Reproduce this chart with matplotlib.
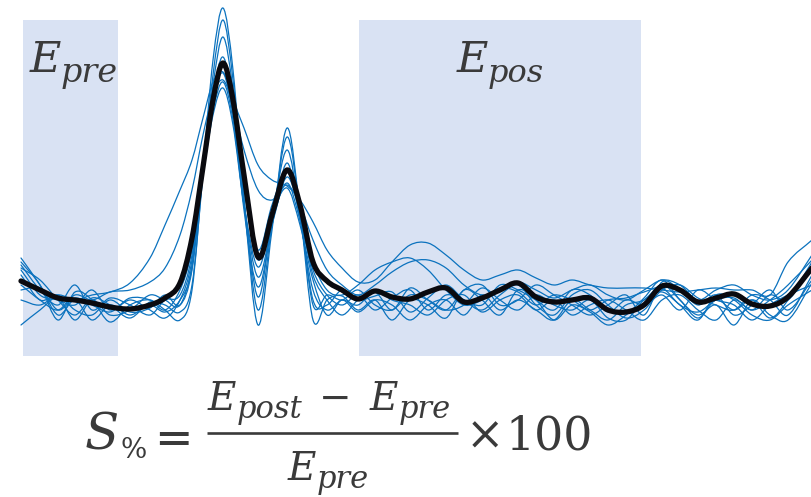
import numpy as np
import matplotlib
matplotlib.use("Agg")
import matplotlib.pyplot as plt
from matplotlib.path import Path
from matplotlib.patches import PathPatch, Rectangle

# sample times of the waveform knots
t = [21, 40, 58, 75, 92, 110, 130, 150, 165, 180, 192, 203, 213, 223, 233, 244,
     258, 272, 287, 300, 313, 327, 342, 358, 375, 392, 410, 428, 446, 464, 482,
     500, 518, 536, 554, 572, 590, 608, 626, 644, 662, 680, 698, 716, 734, 752,
     770, 788, 812]

# grand average (negative up)
mean_wave = [-19, -10, -2, 0, 3, 7, 9, 5, -2, -17, -62, -133, -200, -237, -200, -125,
             -43, -85, -130, -95, -38, -19, -10, -1, -9, -3, -1, -8, -12, 2, -2,
             -10, -17, -3, 2, 0, -2, 10, 12, 5, -14, -10, 2, -2, -6, 4, 6, -3, -32]

# individual trials
trial_a = [-38, -15, 20, -8, 0, 22, 5, 0, 10, 20, -10, -130, -240, -292, -230, -100,
           25, -70, -172, -90, 20, 0, -4, 10, 0, 20, 0, 5, 18, -10, 0,
           15, -10, 0, 20, 5, 12, 25, 15, -2, -20, 0, 15, 5, 25, 0, 15, 20, -17]
trial_b = [-32, -20, 0, 15, -2, 5, 18, 2, 5, 12, -15, -125, -225, -280, -220, -100,
           10, -75, -163, -90, 5, -5, 0, -10, 5, 10, -5, 0, 10, 5, -12,
           0, 10, -5, 5, 10, 0, 18, 20, 0, -8, 5, 20, -5, 0, 15, 20, 5, -10]
trial_c = [-25, 0, -5, 10, 15, 0, 12, 8, -5, 5, -30, -130, -215, -263, -210, -100,
           -3, -80, -150, -85, 0, 5, -10, 0, -4, -8, 12, -2, -15, 0, 10,
           -5, -15, 5, 15, -5, -10, 5, 18, 10, -10, -15, -2, 5, 10, -5, 0, 15, -25]
trial_d = [-10, -12, 10, -2, 5, 12, 0, 10, 18, 0, -40, -135, -205, -243, -195, -90,
           -13, -75, -137, -80, -10, 10, 0, 5, -10, 0, 5, 15, 0, -5, 12,
           0, -5, 10, 0, 15, 5, 0, 10, 20, 0, -5, 10, 20, 0, 10, -5, 0, -35]
trial_e = [0, 5, -5, 0, -5, -8, -17, -42, -75, -110, -140, -182, -218, -228, -200, -172,
           -135, -120, -114, -100, -78, -50, -32, -18, -20, -38, -55, -57, -45, -30, -20,
           -25, -30, -22, -15, -20, -15, -12, -12, -12, -10, -8, -10, -12, -10, -10, -5, -38, -60]
trial_f = [-15, 0, 10, -5, 0, -8, -10, -18, -32, -65, -110, -165, -205, -220, -195, -150,
           -110, -100, -115, -95, -60, -30, -15, -5, -15, -28, -38, -40, -32, -15, -5,
           -10, -18, -10, -2, -10, -15, -5, 0, -10, -20, -15, 0, -10, -15, -5, 0, -10, -45]
trial_g = [-35, -10, 5, -15, 10, -2, 5, 15, 0, -5, -45, -130, -190, -218, -180, -95,
           -23, -75, -123, -85, -25, 0, 15, 0, -8, 10, -12, 0, 10, -10, -15,
           5, 0, -15, -5, 5, 15, 5, -5, 15, -18, -10, 5, -5, 15, 5, -10, 10, -20]
trial_h = [-30, -5, 0, 5, -10, 10, -2, 0, 10, -10, -50, -125, -185, -212, -175, -95,
           -33, -80, -117, -80, -30, -5, 5, -5, 10, -2, -10, 10, -5, 0, 5,
           -15, -10, 0, 10, -10, -5, 12, 0, 5, -5, 10, -10, 0, 5, 20, 5, -5, -15]
trial_i = [25, 10, -2, 20, 0, 15, 10, -5, 0, 5, -35, -130, -200, -227, -185, -110,
           -40, -85, -112, -75, -20, 15, 0, 12, 0, 5, 20, 5, 0, 15, -5,
           10, 0, 10, 20, 0, 10, 20, 5, 0, -15, 0, 18, 0, 10, 0, 18, 0, -38]
trial_j = [-42, -15, 15, 0, 20, 5, 15, 5, 12, 0, -32, -132, -208, -234, -195, -115,
           -50, -95, -128, -90, -38, -10, -5, -15, -30, -38, -42, -30, -10, 5, 0,
           -12, -8, 5, -5, 0, 10, 0, -2, -8, -12, 5, 12, 0, -2, 10, 0, -15, -40]
trials = [trial_a, trial_b, trial_c, trial_d, trial_e,
          trial_f, trial_g, trial_h, trial_i, trial_j]

# analysis windows (time span, amplitude span)
pre_window = (23, 118)
post_window = (359, 641)
window_amp = (-280, 56)

TRIAL_COLOR = '#0B72BE'
SHADE_COLOR = '#D9E2F3'
TEXT_COLOR = '#3A3A3A'
SERIF = 'DejaVu Serif'


def smooth_path(x, y):
    """Cubic Bezier path passing through every (x, y) knot."""
    x = np.asarray(x, float)
    y = np.asarray(y, float)
    n = len(x)
    m = np.empty(n)
    m[1:-1] = (y[2:] - y[:-2]) / (x[2:] - x[:-2])
    m[0] = (y[1] - y[0]) / (x[1] - x[0])
    m[-1] = (y[-1] - y[-2]) / (x[-1] - x[-2])
    verts = [(x[0], y[0])]
    codes = [Path.MOVETO]
    for i in range(n - 1):
        h = x[i + 1] - x[i]
        verts += [(x[i] + h / 3, y[i] + m[i] * h / 3),
                  (x[i + 1] - h / 3, y[i + 1] - m[i + 1] * h / 3),
                  (x[i + 1], y[i + 1])]
        codes += [Path.CURVE4] * 3
    return Path(verts, codes)


def word(ax, x, y, s, size, italic=True, **kw):
    ax.text(x, y, s, fontsize=size, family=SERIF, color=TEXT_COLOR,
            style='italic' if italic else 'normal', va=kw.pop('va', 'baseline'),
            zorder=4, **kw)


def subscripted(ax, x, y, base, sub, size, sub_size, sub_dx, sub_dy):
    word(ax, x, y, base, size)
    word(ax, x + sub_dx, y + sub_dy, sub, sub_size)


fig = plt.figure(figsize=(8.12, 4.97), dpi=100)
ax = fig.add_axes([0, 0, 1, 1])
ax.set_xlim(0, 812)
ax.set_ylim(197, -300)
ax.axis('off')

for lo, hi in (pre_window, post_window):
    ax.add_patch(Rectangle((lo, window_amp[0]), hi - lo, window_amp[1] - window_amp[0],
                           facecolor=SHADE_COLOR, edgecolor='none', zorder=0))

for tr in trials:
    ax.add_patch(PathPatch(smooth_path(t, tr), fill=False, edgecolor=TRIAL_COLOR,
                           lw=0.9, joinstyle='round', capstyle='round', zorder=2))

ax.add_patch(PathPatch(smooth_path(t, mean_wave), fill=False, edgecolor='#0A0A0F',
                       lw=3.8, joinstyle='round', capstyle='round', zorder=3))

# window labels
subscripted(ax, 30, -228, 'E', 'pre', 31, 24, 31, 10)
subscripted(ax, 457, -228, 'E', 'pos', 31, 23, 31, 10)

# percentage-change formula
big, med = 33, 28
word(ax, 85, 150, 'S', 36)
word(ax, 121, 158, '%', 20, italic=False)
word(ax, 173, 135, '=', big, italic=False, ha='center', va='center_baseline')
ax.plot([207, 458], [133, 133], color=TEXT_COLOR, lw=1.9, solid_capstyle='butt')
subscripted(ax, 208, 110, 'E', 'post', med, 22, 29, 8)
word(ax, 335, 110, '\u2212', med, italic=False, ha='center')
subscripted(ax, 370, 110, 'E', 'pre', med, 22, 29, 8)
subscripted(ax, 288, 180, 'E', 'pre', med, 22, 29, 8)
word(ax, 485, 150, '\u00d7', big, italic=False, ha='center')
word(ax, 549, 150, '100', big, italic=False, ha='center')

fig.savefig('out.png', dpi=100)
